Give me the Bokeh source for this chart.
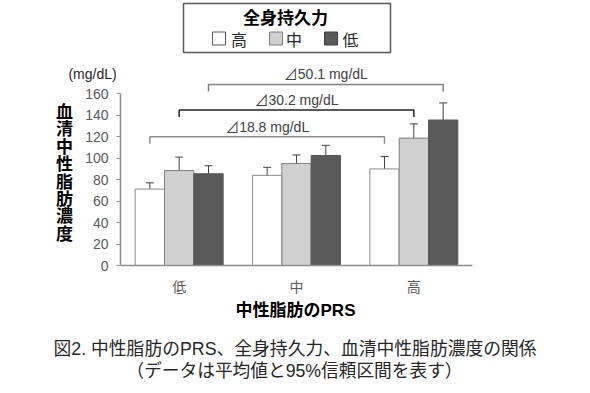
from bokeh.plotting import figure
from bokeh.models import Range1d, FixedTicker, Label, Whisker, ColumnDataSource, TeeHead, LinearAxis
from bokeh.embed import file_html
from bokeh.resources import INLINE

# ---- data ----
prs_groups = ["低", "中", "高"]
fitness_levels = ["高", "中", "低"]
mean_high = [71.2, 84.0, 90.0]
mean_mid = [88.5, 95.0, 118.7]
mean_low = [85.5, 102.5, 135.6]
ci_low_high = [66.0, 75.5, 77.5]
ci_up_high = [77.0, 91.5, 101.5]
ci_low_mid = [76.0, 87.0, 106.0]
ci_up_mid = [101.0, 103.0, 132.0]
ci_low_low = [78.0, 93.0, 119.5]
ci_up_low = [93.0, 112.0, 151.5]
diff_labels = ["⊿18.8 mg/dL", "⊿30.2 mg/dL", "⊿50.1 mg/dL"]
bracket_levels = [120.0, 145.0, 168.7]
y_ticks = [0, 20, 40, 60, 80, 100, 120, 140, 160]

means = [mean_high, mean_mid, mean_low]
lows = [ci_low_high, ci_low_mid, ci_low_low]
ups = [ci_up_high, ci_up_mid, ci_up_low]
fills = ["#ffffff", "#d0d0d0", "#595959"]
outlines = ["#8c8c8c", "#7f7f7f", "#595959"]
offsets = [-0.25, 0.0, 0.25]
bar_w = 0.25

LAT = "Liberation Sans, Noto Sans CJK JP"
CJK = "Noto Sans CJK JP"

W, H = 590, 393
# layout helpers (canvas pixel -> data coords)
FX0, FXS = 120.0, 117.33
FY0, FYS = 265.0, 1.0731
def px(x):
    return (x - FX0) / FXS
def py(y):
    return (FY0 - y) / FYS

p = figure(width=W, height=H, x_range=Range1d(px(0), px(W)), y_range=Range1d(py(H), py(0)),
           output_backend="svg", toolbar_location=None,
           x_axis_location=None, y_axis_location=None,
           min_border_left=0, min_border_right=0, min_border_top=0, min_border_bottom=0)
p.outline_line_color = None
p.xgrid.visible = False
p.ygrid.visible = False
p.background_fill_color = "white"
p.border_fill_color = "white"

centers = [i + 0.5 for i in range(len(prs_groups))]

for k in range(3):
    xs = [c + offsets[k] for c in centers]
    src = ColumnDataSource(dict(x=xs, top=means[k], lower=lows[k], upper=ups[k]))
    p.vbar(x="x", top="top", width=bar_w, bottom=0, source=src,
           fill_color=fills[k], line_color=outlines[k], line_width=1)
    w = Whisker(base="x", upper="upper", lower="lower", source=src,
                line_color="#404040", line_width=1,
                upper_head=TeeHead(size=8, line_color="#404040", line_width=1),
                lower_head=TeeHead(size=8, line_color="#404040", line_width=1))
    p.add_layout(w)

# brackets
bracket_colors = ["#8c8c8c", "#262626", "#7f7f7f"]
for k in range(3):
    x0 = centers[0] + offsets[k]
    x1 = centers[2] + offsets[k]
    lv = bracket_levels[k]
    p.line(x=[x0, x0, x1, x1], y=[lv - 6.5, lv, lv, lv - 6.5],
           line_color=bracket_colors[k], line_width=1.5)
    p.add_layout(Label(x=(x0 + x1) / 2, y=lv + 9.5, text=diff_labels[k],
                       text_align="center", text_baseline="middle",
                       text_font=LAT, text_font_size="14px", text_color="#404040"))

# axes at fixed locations
xaxis = LinearAxis(fixed_location=0, bounds=(0, 3))
xaxis.ticker = FixedTicker(ticks=centers)
xaxis.major_label_overrides = {c: g for c, g in zip(centers, prs_groups)}
xaxis.major_tick_line_color = None
xaxis.major_tick_in = 0
xaxis.major_tick_out = 0
xaxis.minor_tick_line_color = None
xaxis.axis_line_color = "#8c8c8c"
xaxis.axis_line_width = 1.5
xaxis.major_label_text_font = CJK
xaxis.major_label_text_font_size = "14px"
xaxis.major_label_text_color = "#595959"
xaxis.major_label_standoff = 10
p.add_layout(xaxis, "below")

yaxis = LinearAxis(fixed_location=0, bounds=(0, 160))
yaxis.ticker = FixedTicker(ticks=y_ticks)
yaxis.axis_line_color = "#8c8c8c"
yaxis.axis_line_width = 1.5
yaxis.major_tick_line_color = "#8c8c8c"
yaxis.major_tick_in = 0
yaxis.major_tick_out = 4
yaxis.minor_tick_line_color = None
yaxis.major_label_text_font = "Liberation Sans"
yaxis.major_label_text_font_size = "14px"
yaxis.major_label_text_color = "#595959"
yaxis.major_label_standoff = 8
p.add_layout(yaxis, "left")

# unit label
p.add_layout(Label(x=px(92), y=py(73), text="(mg/dL)", text_align="center", text_baseline="middle",
                   text_font="Liberation Sans", text_font_size="14px", text_color="#262626"))
# vertical y-axis title
ytitle = "血清中性脂肪濃度"
for i, ch in enumerate(ytitle):
    p.add_layout(Label(x=px(64), y=py(110 + 17.4 * i), text=ch, text_align="center",
                       text_baseline="middle", text_font=CJK, text_font_size="17px",
                       text_font_style="bold", text_color="#000000"))
# x title
p.add_layout(Label(x=px(295), y=py(310), text="中性脂肪のPRS", text_align="center", text_baseline="middle",
                   text_font=LAT, text_font_size="17px", text_font_style="bold", text_color="#000000"))
# caption
p.add_layout(Label(x=px(53), y=py(348), text="図2. 中性脂肪のPRS、全身持久力、血清中性脂肪濃度の関係",
                   text_align="left", text_baseline="middle",
                   text_font=LAT, text_font_size="17.8px", text_color="#262626"))
p.add_layout(Label(x=px(294), y=py(370), text="（データは平均値と95%信頼区間を表す）",
                   text_align="center", text_baseline="middle",
                   text_font=LAT, text_font_size="17.7px", text_color="#262626"))

# legend box
p.quad(left=[px(183)], right=[px(390)], top=[py(3)], bottom=[py(52)],
       fill_color=None, line_color="#595959", line_width=1.5)
p.add_layout(Label(x=px(285), y=py(16), text="全身持久力", text_align="center", text_baseline="middle",
                   text_font=CJK, text_font_size="17px", text_font_style="bold", text_color="#000000"))
leg_sq_x = [218.5, 275.5, 330.5]
leg_tx_x = [238.5, 293.5, 350.0]
p.scatter(x=[px(v) for v in leg_sq_x], y=[py(38)] * 3, marker="square", size=13,
          fill_color=fills, line_color=["#595959", "#7f7f7f", "#404040"], line_width=1)
for k in range(3):
    p.add_layout(Label(x=px(leg_tx_x[k]), y=py(38), text=fitness_levels[k], text_align="center",
                       text_baseline="middle", text_font=CJK, text_font_size="16px",
                       text_color="#262626"))

open("out.html", "w").write(file_html(p, INLINE))
